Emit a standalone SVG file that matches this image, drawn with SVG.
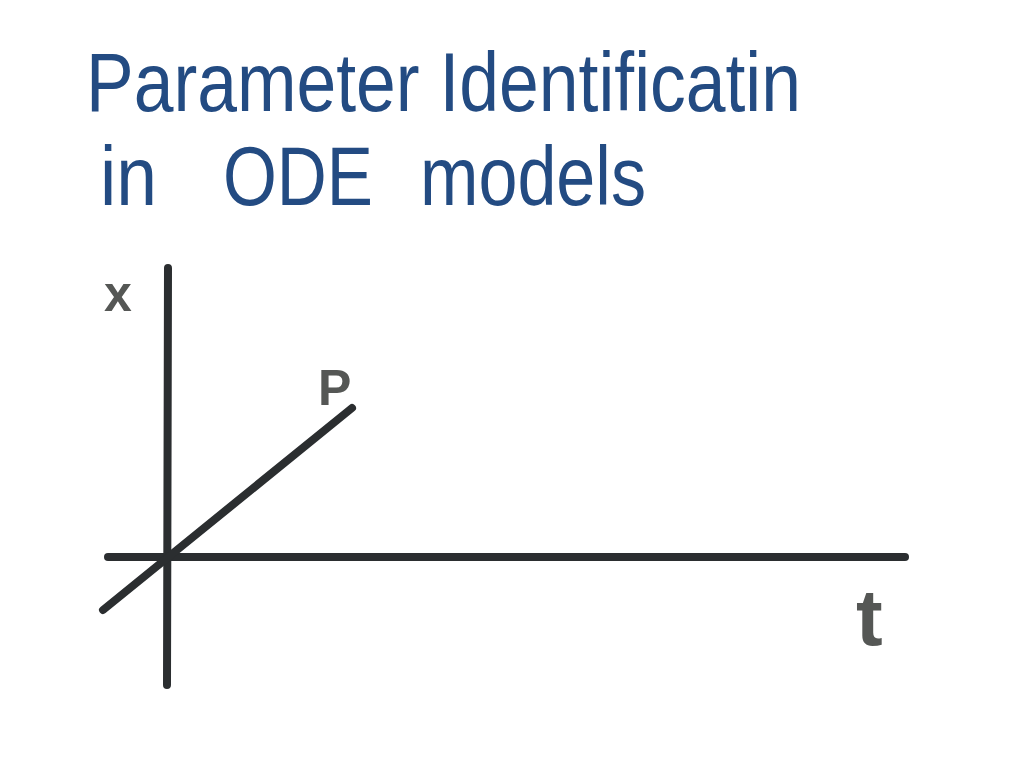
<svg xmlns="http://www.w3.org/2000/svg" width="1024" height="768" viewBox="0 0 1024 768">
<style>
.title{font-family:"Liberation Sans","DejaVu Sans",sans-serif;fill:#234b82;font-size:84px;}
.lbl{font-family:"Liberation Sans","DejaVu Sans",sans-serif;fill:#555755;font-size:50px;font-weight:bold;}
.ax{stroke:#2b2e30;stroke-width:8;stroke-linecap:round;fill:none;}
</style>
<rect width="1024" height="768" fill="#ffffff"/>
<g id="title">
<text class="title" x="86" y="111" textLength="715" lengthAdjust="spacingAndGlyphs">Parameter Identificatin</text>
<text class="title" y="205"><tspan x="100" textLength="57" lengthAdjust="spacingAndGlyphs">in</tspan><tspan x="223" textLength="150" lengthAdjust="spacingAndGlyphs">ODE</tspan><tspan x="420" textLength="226" lengthAdjust="spacingAndGlyphs">models</tspan></text>
</g>
<g id="connectors">
<line class="ax" x1="168" y1="268" x2="167" y2="685"/>
<line class="ax" x1="108" y1="557" x2="905" y2="557"/>
<line class="ax" x1="103" y1="610" x2="352" y2="408"/>
</g>
<g id="label-x"><text class="lbl" x="104" y="311">x</text></g>
<g id="label-p"><text class="lbl" x="318" y="405">P</text></g>
<g id="label-t"><text class="lbl" x="856" y="645" style="font-size:80px">t</text></g>
</svg>
